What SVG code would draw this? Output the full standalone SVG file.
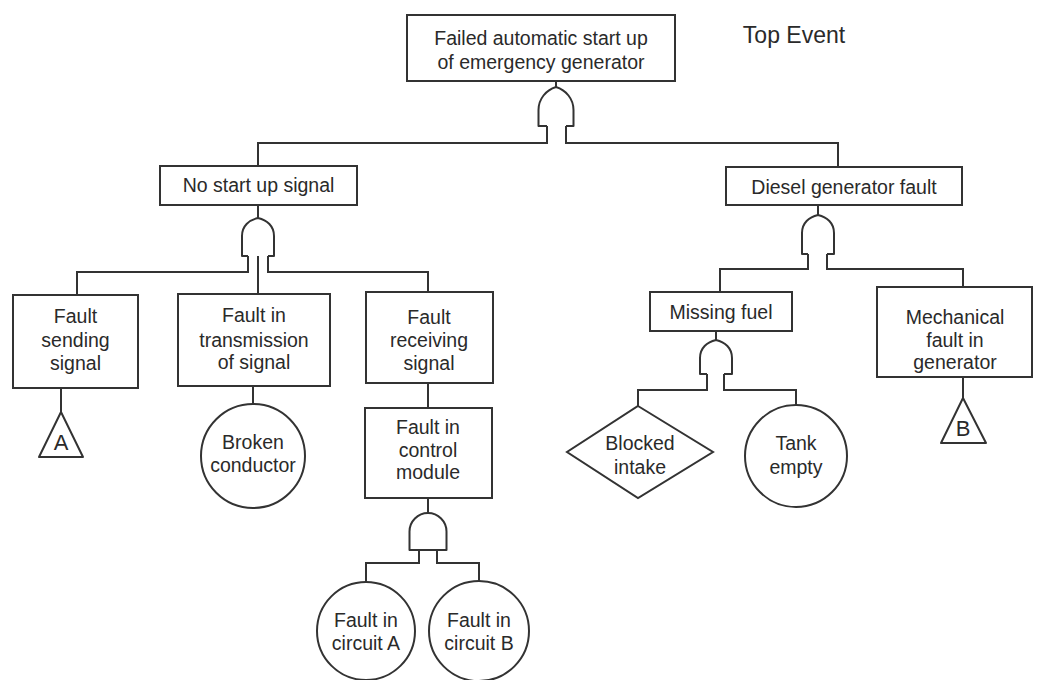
<svg xmlns="http://www.w3.org/2000/svg" width="1041" height="680" viewBox="0 0 1041 680">
<style>
.b{fill:#fff;stroke:#333;stroke-width:2}
.g{fill:#fff;stroke:#333;stroke-width:2;stroke-linejoin:round}
.c{fill:none;stroke:#333;stroke-width:2}
text{font-family:"Liberation Sans",Arial,sans-serif;font-size:19.5px;fill:#2a2a2a;text-anchor:middle}
.big{font-size:23px}
.lt{font-size:22px}
</style>
<rect width="1041" height="680" fill="#fff"/>
<g id="connectors">
<path class="c" d="M556 81V88"/>
<path class="c" d="M547 126V143H258V166"/>
<path class="c" d="M566 126V143H838V167"/>
<path class="c" d="M258 205V219"/>
<path class="c" d="M248 256V272H77V295"/>
<path class="c" d="M268 256V272H428V292"/>
<path class="c" d="M258 250V294"/>
<path class="c" d="M61 388V412"/>
<path class="c" d="M253 386V404"/>
<path class="c" d="M428 383V408"/>
<path class="c" d="M428 498V513"/>
<path class="c" d="M419 550V563H366V582"/>
<path class="c" d="M437 550V563H479V582"/>
<path class="c" d="M818 205V216"/>
<path class="c" d="M808 254V269H720V292"/>
<path class="c" d="M827 254V269H963V287"/>
<path class="c" d="M716 331V341"/>
<path class="c" d="M707 374V390H638V406"/>
<path class="c" d="M724 374V390H796V405"/>
<path class="c" d="M963 377V398"/>
</g>
<g id="top">
<rect class="b" x="407" y="15" width="268" height="66"/>
<text x="541" y="45">Failed automatic start up</text>
<text x="541" y="69">of emergency generator</text>
</g>
<g id="top-label"><text class="big" x="794" y="43">Top Event</text></g>
<g id="gate-top"><path class="g" d="M547 126H538.5V110C538.5 99 546 90 556 87C566 90 573.5 99 573.5 110V126H566"/></g>
<g id="no-start">
<rect class="b" x="160" y="166" width="197" height="39"/>
<text x="258.5" y="192">No start up signal</text>
</g>
<g id="gate-nostart"><path class="g" d="M248 256H242V236C242 226 249 220 258 218C267 220 274 226 274 236V256H268"/></g>
<g id="diesel">
<rect class="b" x="726" y="167" width="236" height="38"/>
<text x="844" y="194">Diesel generator fault</text>
</g>
<g id="gate-diesel"><path class="g" d="M808 254H802V233C802 223 809 217 818 215C827 217 834 223 834 233V254H827"/></g>
<g id="sending">
<rect class="b" x="13" y="295" width="125" height="93"/>
<text x="75.5" y="323">Fault</text>
<text x="75.5" y="347">sending</text>
<text x="75.5" y="370">signal</text>
</g>
<g id="tri-a">
<path class="g" d="M61 412L39 457H83Z"/>
<text class="lt" x="61" y="450">A</text>
</g>
<g id="transmission">
<rect class="b" x="178" y="294" width="152" height="92"/>
<text x="254" y="322">Fault in</text>
<text x="254" y="347">transmission</text>
<text x="254" y="369">of signal</text>
</g>
<g id="broken">
<circle class="b" cx="253" cy="456" r="52"/>
<text x="253" y="449">Broken</text>
<text x="253" y="472">conductor</text>
</g>
<g id="receiving">
<rect class="b" x="366" y="292" width="127" height="91"/>
<text x="429" y="324">Fault</text>
<text x="429" y="347">receiving</text>
<text x="429" y="370">signal</text>
</g>
<g id="control">
<rect class="b" x="365" y="408" width="127" height="90"/>
<text x="428" y="434">Fault in</text>
<text x="428" y="457">control</text>
<text x="428" y="479">module</text>
</g>
<g id="gate-control"><path class="g" d="M409.5 550V531.5A18.5 18.5 0 0 1 446.5 531.5V550Z"/></g>
<g id="circuit-a">
<circle class="b" cx="366" cy="631" r="49"/>
<text x="366" y="627">Fault in</text>
<text x="366" y="650">circuit A</text>
</g>
<g id="circuit-b">
<circle class="b" cx="479" cy="631" r="50"/>
<text x="479" y="627">Fault in</text>
<text x="479" y="650">circuit B</text>
</g>
<g id="missing-fuel">
<rect class="b" x="650" y="292" width="142" height="39"/>
<text x="721" y="319">Missing fuel</text>
</g>
<g id="gate-fuel"><path class="g" d="M707 374H700V358C700 348 707 342 716 340C725 342 732 348 732 358V374H724"/></g>
<g id="blocked">
<path class="b" d="M638 406L713 452L638 498L567 452Z"/>
<text x="640" y="450">Blocked</text>
<text x="640" y="474">intake</text>
</g>
<g id="tank">
<circle class="b" cx="796" cy="456" r="51"/>
<text x="796" y="450">Tank</text>
<text x="796" y="474">empty</text>
</g>
<g id="mechanical">
<rect class="b" x="877" y="287" width="155" height="90"/>
<text x="955" y="324">Mechanical</text>
<text x="955" y="347">fault in</text>
<text x="955" y="369">generator</text>
</g>
<g id="tri-b">
<path class="g" d="M963 398L941 443H986Z"/>
<text class="lt" x="963" y="436">B</text>
</g>
</svg>
